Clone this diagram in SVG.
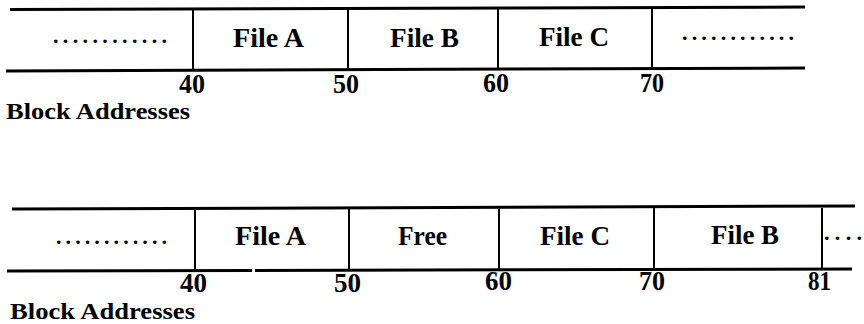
<svg xmlns="http://www.w3.org/2000/svg" width="864" height="324" viewBox="0 0 864 324">
<style>
.t{font-family:"Liberation Serif",serif;font-weight:bold;font-size:28px;fill:#000}
.n{font-family:"Liberation Serif",serif;font-weight:bold;font-size:27px;fill:#000}
.b{font-family:"Liberation Serif",serif;font-weight:bold;font-size:23px;fill:#000}
.d{font-family:"Liberation Serif",serif;font-weight:bold;font-size:22px;fill:#000}
.h{stroke:#000;stroke-width:3;fill:none}
.v{stroke:#000;stroke-width:2;fill:none}
</style>
<rect width="864" height="324" fill="#fff"/>
<g id="strips">
<line class="h" x1="10" y1="9.5" x2="805" y2="7"/>
<line class="h" x1="6" y1="71" x2="805" y2="68"/>
<line class="h" x1="12" y1="209" x2="855" y2="206"/>
<line class="h" x1="7" y1="271" x2="252" y2="270.4"/>
<line class="h" x1="255" y1="270.4" x2="852" y2="269"/>
</g>
<g id="top">
<g id="t-dots1"><text class="d" x="53" y="43" textLength="114" lengthAdjust="spacing">............</text></g>
<g id="t-fileA"><line class="v" x1="193" y1="10" x2="193" y2="70"/><text class="t" x="233" y="47" textLength="71" lengthAdjust="spacingAndGlyphs">File A</text></g>
<g id="t-fileB"><line class="v" x1="348" y1="9" x2="348" y2="70"/><text class="t" x="390" y="47" textLength="69" lengthAdjust="spacingAndGlyphs">File B</text></g>
<g id="t-fileC"><line class="v" x1="498" y1="9" x2="498" y2="69"/><text class="t" x="539" y="46" textLength="70" lengthAdjust="spacingAndGlyphs">File C</text></g>
<g id="t-dots2"><line class="v" x1="652" y1="8" x2="652" y2="69"/><text class="d" x="682" y="40" textLength="112" lengthAdjust="spacing">............</text></g>
<g id="t-nums">
<text class="n" x="179" y="92.5" textLength="26" lengthAdjust="spacingAndGlyphs">40</text>
<text class="n" x="333" y="92.5" textLength="26" lengthAdjust="spacingAndGlyphs">50</text>
<text class="n" x="483" y="91.5" textLength="26" lengthAdjust="spacingAndGlyphs">60</text>
<text class="n" x="640" y="91.5" textLength="24" lengthAdjust="spacingAndGlyphs">70</text>
<text class="b" x="6" y="118.5" textLength="184" lengthAdjust="spacingAndGlyphs">Block Addresses</text>
</g>
</g>
<g id="bottom">
<g id="b-dots1"><text class="d" x="56" y="244" textLength="111" lengthAdjust="spacing">............</text></g>
<g id="b-fileA"><line class="v" x1="195" y1="210" x2="195" y2="270"/><text class="t" x="235" y="245" textLength="71" lengthAdjust="spacingAndGlyphs">File A</text></g>
<g id="b-free"><line class="v" x1="349" y1="209" x2="349" y2="270"/><text class="t" x="398" y="245" textLength="49" lengthAdjust="spacingAndGlyphs">Free</text></g>
<g id="b-fileC"><line class="v" x1="499" y1="209" x2="499" y2="269"/><text class="t" x="540" y="245" textLength="70" lengthAdjust="spacingAndGlyphs">File C</text></g>
<g id="b-fileB"><line class="v" x1="654" y1="208" x2="654" y2="269"/><text class="t" x="711" y="244" textLength="68" lengthAdjust="spacingAndGlyphs">File B</text></g>
<g id="b-dots2"><line class="v" x1="822" y1="208" x2="822" y2="268"/><text class="d" x="824" y="240" textLength="38" lengthAdjust="spacing">....</text></g>
<g id="b-nums">
<text class="n" x="180" y="292" textLength="27" lengthAdjust="spacingAndGlyphs">40</text>
<text class="n" x="334" y="292" textLength="27" lengthAdjust="spacingAndGlyphs">50</text>
<text class="n" x="485" y="290" textLength="27" lengthAdjust="spacingAndGlyphs">60</text>
<text class="n" x="639" y="290" textLength="26" lengthAdjust="spacingAndGlyphs">70</text>
<text class="n" x="808" y="290" textLength="23" lengthAdjust="spacingAndGlyphs">81</text>
<text class="b" x="10" y="319" textLength="185" lengthAdjust="spacingAndGlyphs">Block Addresses</text>
</g>
</g>
</svg>
